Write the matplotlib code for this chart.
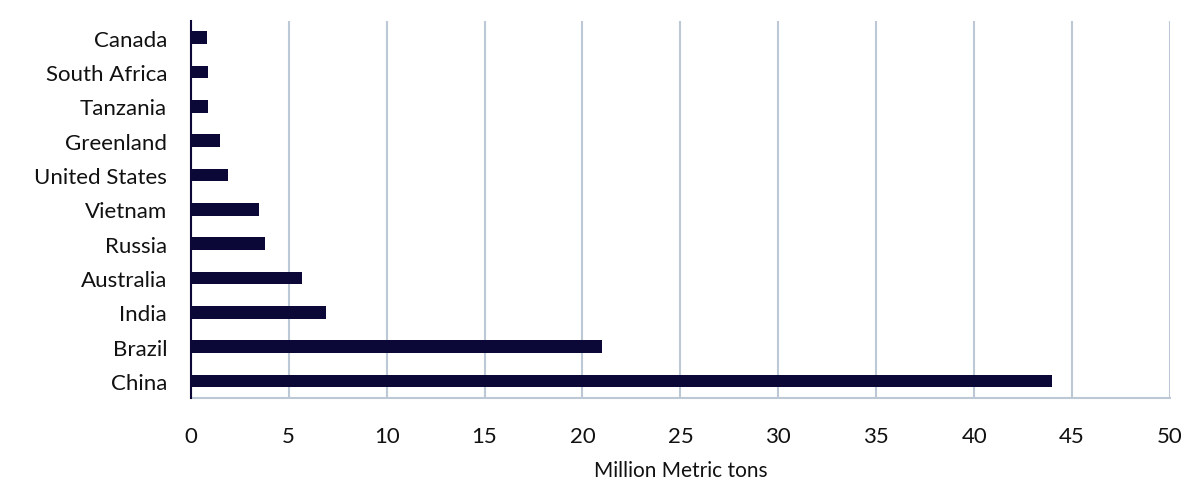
import matplotlib
matplotlib.use('Agg')
import matplotlib.pyplot as plt

# DATOS (de abajo hacia arriba)
countries = ['China', 'Brazil', 'India', 'Australia', 'Russia', 'Vietnam',
             'United States', 'Greenland', 'Tanzania', 'South Africa', 'Canada']
values = [44, 21, 6.9, 5.7, 3.8, 3.5, 1.9, 1.5, 0.89, 0.86, 0.83]
xticks = [0, 5, 10, 15, 20, 25, 30, 35, 40, 45, 50]

plt.rcParams['font.family'] = ['Lato', 'DejaVu Sans']

fig = plt.figure(figsize=(12, 4.89), dpi=100)
ax = fig.add_axes([0.159, 0.184, 0.816, 0.772])

ax.barh(countries, values, height=0.37, color='#0b0838', zorder=3)

ax.set_xlim(0, 50)
ax.set_ylim(-0.5, 10.5)
ax.set_xticks(xticks)
ax.grid(axis='x', color='#bcc8d6', linewidth=1.5, zorder=0)
ax.grid(axis='y', visible=False)

for s in ['top', 'right']:
    ax.spines[s].set_visible(False)
ax.spines['left'].set_color('#0b0838')
ax.spines['left'].set_linewidth(1.5)
ax.spines['left'].set_zorder(4)
ax.spines['bottom'].set_color('#bcc8d6')
ax.spines['bottom'].set_linewidth(1.5)

ax.tick_params(axis='both', length=0, labelsize=16, colors='#111111')
ax.tick_params(axis='x', pad=20)
ax.tick_params(axis='y', pad=17)

ax.set_xlabel('Million Metric tons', fontsize=15, color='#111111', labelpad=10)

fig.savefig('out.png', dpi=100)
plt.close('all')
